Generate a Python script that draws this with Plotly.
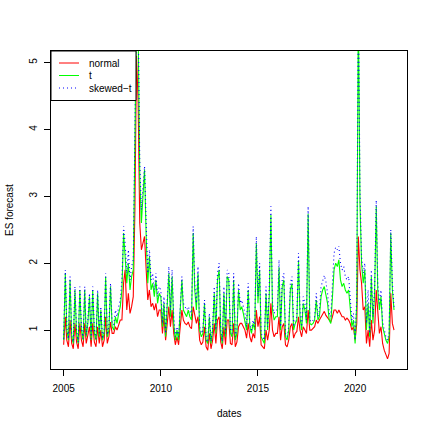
import pandas as pd
import plotly.graph_objects as go

# monthly ES forecasts, Jan 2005 .. Jan 2022
dates = pd.date_range("2005-01-01", periods=205, freq="MS")

es_t = [
    0.85, 1.85, 1.0, 0.85, 1.75, 0.9, 0.8, 1.6, 0.95, 0.8, 1.6, 1.0,
    0.85, 1.6, 0.9, 1.1, 1.5, 0.85, 1.6, 0.95, 0.85, 1.55, 0.9, 1.3,
    0.85, 0.95, 1.8, 0.9, 1.0, 1.65, 1.05, 1.0, 1.2, 1.1, 1.25, 1.35,
    1.6, 2.45, 2.1, 1.7, 2.0, 1.6, 1.8, 1.9, 3.8, 5.8, 5.5, 3.3,
    2.6, 3.0, 3.4, 2.4, 1.7, 2.1, 1.6, 1.7, 1.5, 1.75, 1.4, 1.55,
    1.5, 1.05, 1.4, 0.9, 1.3, 1.85, 1.2, 1.8, 1.1, 0.85, 1.0, 0.85,
    1.3, 1.75, 1.3, 1.25, 1.2, 1.3, 1.2, 1.15, 2.45, 1.6, 1.3, 1.85,
    1.0, 0.9, 0.95, 1.4, 0.85, 0.8, 1.2, 0.8, 1.0, 1.55, 0.95, 1.75,
    1.9, 0.95, 0.8, 1.55, 0.9, 1.8, 1.75, 0.95, 0.9, 1.75, 0.85, 0.95,
    1.6, 1.3, 1.35, 1.25, 1.15, 1.0, 1.6, 1.05, 0.95, 1.1, 1.0, 2.3,
    1.4, 1.9, 0.9, 0.85, 0.8, 1.55, 1.0, 1.5, 2.72, 1.3, 1.15, 1.2,
    1.2, 1.94, 1.0, 1.65, 1.75, 0.9, 0.85, 1.0, 1.6, 1.7, 1.0, 1.1,
    1.15, 2.04, 1.2, 1.0, 1.4, 1.3, 1.1, 2.74, 1.1, 1.08, 1.1, 1.15,
    1.45, 1.15, 1.2, 1.5, 1.6, 1.65, 1.55, 1.4, 1.15, 1.1, 1.5, 1.9,
    2.0, 1.95, 2.05, 1.75, 1.65, 1.7, 1.6, 1.55, 1.6, 1.3, 1.05, 1.15,
    0.8, 1.4, 5.9, 2.9, 2.0, 1.7, 1.9, 1.0, 1.4, 0.9, 1.8, 1.1,
    1.55, 2.85, 1.6, 1.3, 1.5, 1.05, 0.95, 0.85, 0.8, 0.9, 2.45, 1.6,
    1.3,
]

es_normal = [
    0.78, 1.2, 0.85, 0.75, 1.15, 0.8, 0.72, 1.1, 0.82, 0.72, 1.1, 0.85,
    0.75, 1.1, 0.8, 0.95, 1.05, 0.75, 1.1, 0.82, 0.75, 1.05, 0.8, 1.0,
    0.75, 0.85, 1.2, 0.8, 0.9, 1.12, 0.95, 0.95, 1.05, 1.0, 1.1, 1.15,
    1.15, 1.7, 1.9, 1.3, 1.55, 1.25, 1.35, 1.5, 2.8, 5.1, 4.4, 2.6,
    2.2, 2.3, 2.4, 1.9, 1.45, 1.6, 1.35, 1.4, 1.3, 1.4, 1.2, 1.3,
    1.3, 0.95, 1.2, 0.85, 1.1, 1.35, 1.05, 1.3, 0.95, 0.78, 0.9, 0.78,
    1.05, 1.3, 1.15, 1.1, 1.08, 1.12, 1.05, 1.02, 1.35, 1.2, 1.1, 1.2,
    0.85, 0.78, 0.82, 1.05, 0.75, 0.7, 0.95, 0.72, 0.85, 1.1, 0.8, 1.15,
    1.2, 0.82, 0.72, 1.05, 0.78, 1.15, 1.15, 0.8, 0.78, 1.1, 0.75, 0.82,
    1.05, 1.1, 1.1, 1.05, 1.0, 0.88, 1.1, 0.9, 0.82, 0.95, 0.88, 1.3,
    1.05, 1.2, 0.78, 0.75, 0.72, 1.0, 0.85, 1.0, 1.4, 1.0, 0.9, 0.95,
    0.95, 1.2, 0.85, 1.05, 1.1, 0.78, 0.75, 0.85, 1.05, 1.1, 0.88, 0.95,
    0.98, 1.2, 1.0, 0.9, 1.05, 1.0, 0.95, 1.3, 1.0, 1.0, 1.02, 1.05,
    1.15, 1.1, 1.15, 1.2, 1.25, 1.28, 1.22, 1.18, 1.15, 1.12, 1.2, 1.3,
    1.3, 1.25, 1.3, 1.25, 1.2, 1.2, 1.15, 1.18, 1.15, 1.1, 1.0, 1.05,
    0.85, 1.1, 2.4, 1.9, 1.7, 1.3, 1.35, 0.8, 1.0, 0.75, 1.15, 0.85,
    1.0, 1.6, 1.2, 0.95, 1.05, 0.8, 0.7, 0.62, 0.57, 0.65, 1.55, 1.1,
    1.0,
]

es_skewt = [
    0.87, 1.9, 1.05, 0.87, 1.8, 0.93, 0.82, 1.65, 1.0, 0.82, 1.65, 1.05,
    0.87, 1.65, 0.93, 1.15, 1.55, 0.87, 1.65, 1.0, 0.87, 1.6, 0.93, 1.35,
    0.87, 1.0, 1.85, 0.93, 1.05, 1.7, 1.1, 1.08, 1.3, 1.2, 1.35, 1.45,
    1.75, 2.55, 2.3, 1.85, 2.2, 1.75, 1.95, 2.05, 4.0, 6.0, 5.7, 3.5,
    2.8, 3.1, 3.45, 2.6, 1.85, 2.2, 1.75, 1.85, 1.6, 1.85, 1.5, 1.65,
    1.6, 1.1, 1.5, 0.95, 1.4, 1.95, 1.3, 1.9, 1.2, 0.9, 1.05, 0.9,
    1.35, 1.8, 1.4, 1.35, 1.3, 1.35, 1.28, 1.22, 2.55, 1.7, 1.4, 1.95,
    1.05, 0.95, 1.0, 1.45, 0.88, 0.82, 1.25, 0.83, 1.05, 1.65, 1.0, 1.85,
    2.0, 1.0, 0.83, 1.65, 0.95, 1.9, 1.85, 1.0, 0.95, 1.85, 0.9, 1.0,
    1.7, 1.4, 1.45, 1.35, 1.25, 1.05, 1.7, 1.1, 1.0, 1.15, 1.05, 2.4,
    1.5, 2.0, 0.95, 0.9, 0.85, 1.65, 1.05, 1.6, 2.85, 1.4, 1.25, 1.3,
    1.3, 2.05, 1.05, 1.75, 1.85, 0.95, 0.9, 1.05, 1.7, 1.8, 1.05, 1.15,
    1.2, 2.15, 1.3, 1.05, 1.5, 1.4, 1.15, 2.85, 1.15, 1.12, 1.15, 1.2,
    1.55, 1.2, 1.3, 1.65, 1.75, 1.82, 1.72, 1.55, 1.25, 1.2, 1.7, 2.15,
    2.24, 2.2, 2.25, 2.0, 1.9, 1.95, 1.8, 1.75, 1.8, 1.45, 1.15, 1.25,
    0.85, 1.5, 6.2, 3.1, 2.1, 1.85, 2.0, 1.1, 1.6, 0.95, 1.9, 1.2,
    1.6, 2.94, 1.7, 1.4, 1.6, 1.12, 1.0, 0.9, 0.85, 0.95, 2.5, 1.7,
    1.35,
]

series_names = ["normal", "t", "skewed\u2212t"]
series_colors = ["#FF0000", "#00FF00", "#0000FF"]
series_dash = ["solid", "solid", "1px,3px"]

x_ticks = ["2005-01-01", "2010-01-01", "2015-01-01", "2020-01-01"]
x_tick_labels = ["2005", "2010", "2015", "2020"]
y_ticks = [1, 2, 3, 4, 5]

FONT = "Liberation Sans, Arial, Helvetica, sans-serif"
TXT = dict(family=FONT, size=10, color="black")

fig = go.Figure()
for vals, name, col, dash in zip([es_normal, es_t, es_skewt], series_names,
                                 series_colors, series_dash):
    fig.add_trace(go.Scatter(x=dates, y=vals, mode="lines", name=name,
                             showlegend=False,
                             line=dict(color=col, width=1.1, dash=dash)))

axis_common = dict(showline=True, linecolor="black", linewidth=1, mirror=True,
                   ticks="outside", ticklen=6, tickcolor="black", tickwidth=1,
                   showgrid=False, zeroline=False, tickfont=TXT)

# plot area in page pixels: x 51..407, y 51..369
PW, PH = 356.0, 318.0
def px(xp):
    return (xp - 51) / PW
def py(yp):
    return 1 - (yp - 51) / PH

shapes = [dict(type="rect", xref="paper", yref="paper",
               x0=px(51), x1=px(136), y0=py(100.5), y1=py(51),
               line=dict(color="black", width=1), fillcolor="white",
               layer="above")]
annotations = []
row_y = [63, 75.5, 88]
for name, col, dash, ry in zip(series_names, series_colors, series_dash, row_y):
    shapes.append(dict(type="line", xref="paper", yref="paper",
                       x0=px(59), x1=px(79), y0=py(ry), y1=py(ry),
                       line=dict(color=col, width=1, dash=dash), layer="above"))
    annotations.append(dict(text=name, xref="paper", yref="paper",
                            x=px(87), y=py(ry), xanchor="left", yanchor="middle",
                            showarrow=False, font=TXT))

annotations += [
    dict(text="dates", xref="paper", yref="paper", x=px(229), y=py(413),
         xanchor="center", yanchor="middle", showarrow=False, font=TXT),
    dict(text="ES forecast", xref="paper", yref="paper", x=px(9), y=0.5,
         xanchor="center", yanchor="middle", textangle=-90, showarrow=False,
         font=TXT),
]

fig.update_layout(
    width=433, height=433,
    margin=dict(l=51, r=26, t=51, b=64, autoexpand=False),
    paper_bgcolor="white", plot_bgcolor="white",
    font=TXT,
    xaxis=dict(type="date", range=["2004-05-08", "2022-09-02"],
               tickvals=x_ticks, ticktext=x_tick_labels,
               ticklabelstandoff=4, **axis_common),
    yaxis=dict(range=[0.418, 5.173], tickvals=y_ticks,
               ticktext=[str(v) for v in y_ticks], tickangle=-90,
               ticklabelstandoff=3, **axis_common),
    showlegend=False,
    shapes=shapes,
    annotations=annotations,
)

fig.write_html("out.html",
               config={"displayModeBar": False},
               post_script="document.body.style.margin='0';"
                           "document.body.style.overflow='hidden';")
